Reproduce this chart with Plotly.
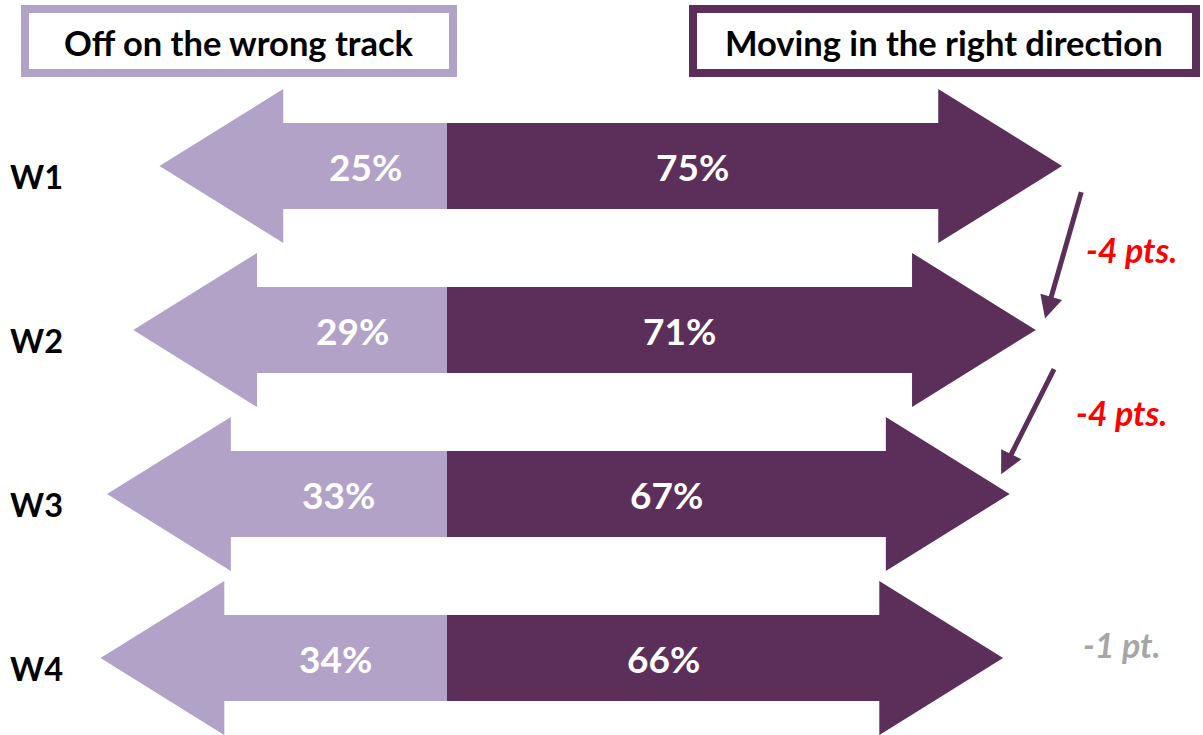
import plotly.graph_objects as go

# ---- data ----
waves = ["W1", "W2", "W3", "W4"]
wrong_track = [25, 29, 33, 34]
right_direction = [75, 71, 67, 66]
header_left = "Off on the wrong track"
header_right = "Moving in the right direction"

# ---- styling ----
LIGHT = "#B3A2C7"
DARK = "#5B2F5A"
FONT = "Lato"
HEAD = 18.9      # arrow head length (axis units)
BODY_H = 0.262   # half body height (row units)
HEAD_H = 0.47    # half head height (row units)

fig = go.Figure()

def arrow(v, r, direction):
    s = direction
    xs = [0, s * v, s * v, s * (v + HEAD), s * v, s * v, 0, 0]
    ys = [r - BODY_H, r - BODY_H, r - HEAD_H, r, r + HEAD_H, r + BODY_H, r + BODY_H, r - BODY_H]
    return xs, ys

for i, (w, l, rt) in enumerate(zip(waves, wrong_track, right_direction)):
    xs, ys = arrow(l, i, -1)
    fig.add_trace(go.Scatter(x=xs, y=ys, fill="toself", fillcolor=LIGHT, mode="lines",
                             line=dict(width=0, color=LIGHT), hoverinfo="skip", showlegend=False))
    xs, ys = arrow(rt, i, 1)
    fig.add_trace(go.Scatter(x=xs, y=ys, fill="toself", fillcolor=DARK, mode="lines",
                             line=dict(width=0, color=DARK), hoverinfo="skip", showlegend=False))
    fig.add_annotation(x=-l / 2, y=i, text=f"<b>{l}%</b>", showarrow=False,
                       font=dict(family=FONT, size=37, color="white"), xanchor="center", yanchor="middle")
    fig.add_annotation(x=rt / 2, y=i, text=f"<b>{rt}%</b>", showarrow=False,
                       font=dict(family=FONT, size=37, color="white"), xanchor="center", yanchor="middle")
    fig.add_annotation(x=-62.6, y=i + 0.067, text=f"<b>{w}</b>", showarrow=False,
                       font=dict(family=FONT, size=32.5, color="black"), xanchor="center", yanchor="middle")

# change annotations
diff_colors = ["#FF0000", "#FF0000", "#A6A6A6"]
diff_pos = [(104.5, 0.51), (103.0, 1.506), (103.0, 2.92)]
for k in range(len(waves) - 1):
    d = right_direction[k + 1] - right_direction[k]
    unit = "pt." if abs(d) == 1 else "pts."
    fig.add_annotation(x=diff_pos[k][0], y=diff_pos[k][1], text=f"<b><i>{d} {unit}</i></b>",
                       showarrow=False, font=dict(family=FONT, size=34, color=diff_colors[k]),
                       xanchor="center", yanchor="middle")

# connecting arrows (first two changes)
conn = [((3.0, 0.15), (1.4, -0.07)), ((2.9, 0.23), (-1.3, -0.12))]
for k, ((sx, sy), (ex, ey)) in enumerate(conn):
    tip0 = right_direction[k] + HEAD
    tip1 = right_direction[k + 1] + HEAD
    fig.add_annotation(x=tip1 + ex, y=k + 1 + ey, ax=tip0 + sx, ay=k + sy,
                       xref="x", yref="y", axref="x", ayref="y", text="",
                       showarrow=True, arrowhead=2, arrowsize=0.9, arrowwidth=5, arrowcolor=DARK)

# header boxes (paper coords)
W, H = 1203, 735
def box(x0, x1, y0, y1, color):
    fig.add_shape(type="rect", xref="paper", yref="paper",
                  x0=x0 / W, x1=x1 / W, y0=1 - y1 / H, y1=1 - y0 / H,
                  line=dict(color=color, width=8), fillcolor="white")

box(25, 453, 9, 73, LIGHT)
box(693, 1196, 9, 73, DARK)
fig.add_annotation(xref="paper", yref="paper", x=239 / W, y=1 - 42 / H, text=f"<b>{header_left}</b>",
                   showarrow=False, font=dict(family=FONT, size=34.5, color="black"),
                   xanchor="center", yanchor="middle")
fig.add_annotation(xref="paper", yref="paper", x=944 / W, y=1 - 42 / H, text=f"<b>{header_right}</b>",
                   showarrow=False, font=dict(family=FONT, size=34.5, color="black"),
                   xanchor="center", yanchor="middle")

px_per_unit = 6.55
fig.update_layout(
    width=W, height=H, margin=dict(l=0, r=0, t=0, b=0),
    plot_bgcolor="white", paper_bgcolor="white",
    xaxis=dict(range=[-447 / px_per_unit, (W - 447) / px_per_unit], visible=False, fixedrange=True),
    yaxis=dict(range=[(H - 166) / 164, -166 / 164], visible=False, fixedrange=True),
    showlegend=False,
)

fig.write_html("out.html", config={"displayModeBar": False},
               post_script="document.body.style.margin='0';document.body.style.overflow='hidden';")
